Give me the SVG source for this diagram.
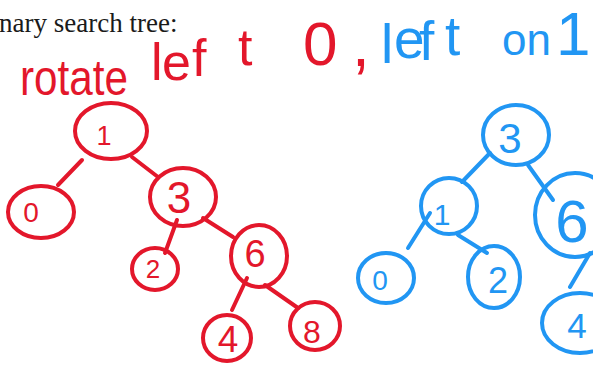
<svg xmlns="http://www.w3.org/2000/svg" width="593" height="366" viewBox="0 0 593 366">
<style>
.r{stroke:#e3172b;fill:none;stroke-width:4;stroke-linecap:round}
.b{stroke:#2196f3;fill:none;stroke-width:4;stroke-linecap:round}
.rt{fill:#e3172b;font-family:"Liberation Sans",Arial,sans-serif}
.bt{fill:#2196f3;font-family:"Liberation Sans",Arial,sans-serif}
.d{text-anchor:middle}
</style>
<rect width="593" height="366" fill="#ffffff"/>
<text x="-1" y="32" font-family="'Liberation Serif',serif" font-size="27" fill="#1a1a1a">nary search tree:</text>
<g id="heading">
<text class="rt" x="20" y="95" font-size="50" textLength="108" lengthAdjust="spacingAndGlyphs">rotate</text>
<text class="rt" font-size="52" x="151 162 192 238" y="80 80 76 65">left</text>
<text class="rt" x="303" y="65" font-size="62">0</text>
<text class="rt" x="352" y="66" font-size="64">,</text>
<text class="bt" font-size="55" x="381 394 419 445" y="63 58 60 55">left</text>
<text class="bt" x="502" y="55" font-size="44">on</text>
<text class="bt" x="556" y="55" font-size="62">1</text>
</g>
<g id="connectors">
<line class="r" x1="82" y1="160" x2="58" y2="185"/>
<line class="r" x1="132" y1="157" x2="158" y2="177"/>
<line class="r" x1="177" y1="220" x2="165" y2="253"/>
<line class="r" x1="203" y1="218" x2="233" y2="237"/>
<line class="r" x1="247" y1="278" x2="232" y2="310"/>
<line class="r" x1="265" y1="285" x2="298" y2="308"/>
<line class="b" x1="490" y1="153" x2="462" y2="182"/>
<line class="b" x1="528" y1="165" x2="553" y2="200"/>
<line class="b" x1="430" y1="213" x2="408" y2="248"/>
<line class="b" x1="458" y1="235" x2="487" y2="253"/>
<line class="b" x1="590" y1="253" x2="570" y2="287"/>
</g>
<g id="r1"><ellipse class="r" cx="111" cy="131" rx="36" ry="28"/><text class="rt d" x="104" y="145" font-size="27">1</text></g>
<g id="r0"><ellipse class="r" cx="41" cy="212" rx="33" ry="26"/><text class="rt d" x="31" y="222" font-size="28">0</text></g>
<g id="r3"><ellipse class="r" cx="183" cy="197" rx="33" ry="29"/><text class="rt d" x="179" y="213" font-size="44">3</text></g>
<g id="r2"><ellipse class="r" cx="155" cy="269" rx="23" ry="21"/><text class="rt d" x="153" y="278" font-size="26">2</text></g>
<g id="r6"><ellipse class="r" cx="259" cy="256" rx="28" ry="31"/><text class="rt d" x="255" y="267" font-size="38">6</text></g>
<g id="r4"><ellipse class="r" cx="227" cy="338" rx="24" ry="23"/><text class="rt d" x="228" y="352" font-size="37">4</text></g>
<g id="r8"><ellipse class="r" cx="315" cy="326" rx="25" ry="24"/><text class="rt d" x="312" y="343" font-size="32">8</text></g>
<g id="b3"><ellipse class="b" cx="516" cy="135" rx="33" ry="30"/><text class="bt d" x="510" y="153" font-size="42">3</text></g>
<g id="b1"><ellipse class="b" cx="449" cy="206" rx="28" ry="28"/><text class="bt d" x="442" y="225" font-size="30">1</text></g>
<g id="b0"><ellipse class="b" cx="386" cy="278" rx="28" ry="25"/><text class="bt d" x="380" y="290" font-size="28">0</text></g>
<g id="b2"><ellipse class="b" cx="494" cy="277" rx="26" ry="31"/><text class="bt d" x="498" y="293" font-size="36">2</text></g>
<g id="b6"><ellipse class="b" cx="575" cy="215" rx="40" ry="42"/><text class="bt d" x="572" y="242" font-size="60">6</text></g>
<g id="b4"><ellipse class="b" cx="580" cy="323" rx="38" ry="30"/><text class="bt d" x="577" y="338" font-size="35">4</text></g>
</svg>
